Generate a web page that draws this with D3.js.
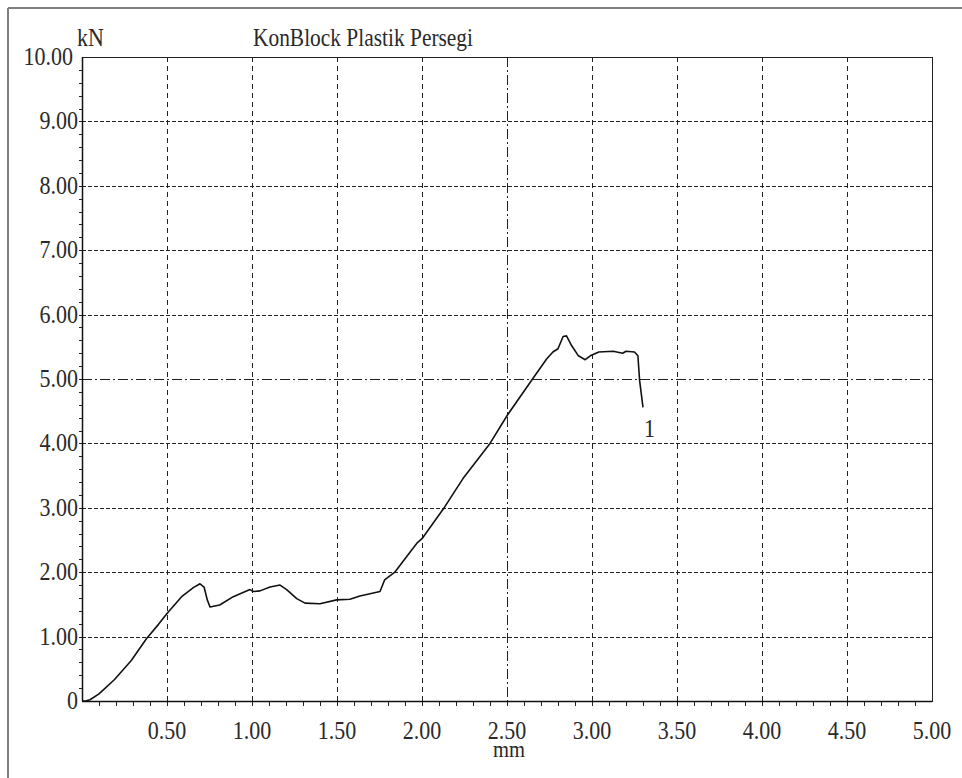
<!DOCTYPE html>
<html><head><meta charset="utf-8">
<script src="https://cdn.jsdelivr.net/npm/d3@7"></script>
<style>
body{margin:0;background:#fff}
svg{display:block}
text{font-family:"Liberation Serif","Times New Roman",serif;fill:#2a2a2a}
</style>
</head><body><svg width="962" height="778"></svg>
<script>
const chartTitle = "KonBlock Plastik Persegi";
const yUnit = "kN";
const xUnit = "mm";
const curveLabel = "1";
const xTicks = [0.5, 1, 1.5, 2, 2.5, 3, 3.5, 4, 4.5, 5];
const xTickLabels = ["0.50", "1.00", "1.50", "2.00", "2.50", "3.00", "3.50", "4.00", "4.50", "5.00"];
const yTicks = [0, 1, 2, 3, 4, 5, 6, 7, 8, 9, 10];
const yTickLabels = ["0", "1.00", "2.00", "3.00", "4.00", "5.00", "6.00", "7.00", "8.00", "9.00", "10.00"];
const dispMm = [0, 0.02, 0.047, 0.10, 0.19, 0.29, 0.38, 0.45, 0.50, 0.586, 0.655, 0.694, 0.718, 0.737, 0.753, 0.81, 0.89, 0.988, 1.008, 1.047, 1.106, 1.165, 1.204, 1.263, 1.312, 1.40, 1.498, 1.576, 1.635, 1.753, 1.78, 1.84, 1.90, 1.97, 2.00, 2.125, 2.24, 2.40, 2.50, 2.645, 2.733, 2.77, 2.80, 2.83, 2.85, 2.88, 2.92, 2.96, 2.99, 3.04, 3.125, 3.18, 3.20, 3.25, 3.27, 3.28, 3.30];
const forceKN = [0, 0, 0.02, 0.11, 0.33, 0.63, 0.97, 1.19, 1.36, 1.62, 1.76, 1.82, 1.77, 1.57, 1.46, 1.49, 1.62, 1.73, 1.70, 1.71, 1.77, 1.80, 1.73, 1.59, 1.52, 1.51, 1.57, 1.58, 1.63, 1.70, 1.88, 2.00, 2.21, 2.45, 2.52, 2.98, 3.45, 4.00, 4.43, 4.98, 5.31, 5.42, 5.47, 5.66, 5.67, 5.52, 5.36, 5.30, 5.36, 5.42, 5.43, 5.40, 5.43, 5.42, 5.36, 4.98, 4.56];

const svg = d3.select("svg");
const L = 82, R = 932, T = 57, B = 701;
const x = d3.scaleLinear().domain([0, 5]).range([L, R]);
const y = d3.scaleLinear().domain([0, 10]).range([B, T]);

// outer frame
svg.append("line").attr("x1", 8).attr("x2", 962).attr("y1", 8).attr("y2", 8).attr("stroke", "#808080").attr("stroke-width", 2);
svg.append("line").attr("x1", 8).attr("x2", 8).attr("y1", 8).attr("y2", 778).attr("stroke", "#808080").attr("stroke-width", 2);

// grid
const grid = svg.append("g").attr("stroke", "#222").attr("stroke-width", 1).attr("shape-rendering", "crispEdges");
grid.selectAll(".gx").data(xTicks.filter(d => d < 5)).join("line")
  .attr("x1", d => Math.round(x(d)) + 0.5).attr("x2", d => Math.round(x(d)) + 0.5)
  .attr("y1", T).attr("y2", B)
  .attr("stroke-dasharray", d => d === 2.5 ? "10,3,2,3" : "5,4");
grid.selectAll(".gy").data(yTicks.filter(d => d > 0 && d < 10)).join("line")
  .attr("x1", L).attr("x2", R)
  .attr("y1", d => Math.round(y(d)) + 0.5).attr("y2", d => Math.round(y(d)) + 0.5)
  .attr("stroke-dasharray", d => d === 5 ? "10,3,2,3" : "4,2");

// minor ticks
const minorX = d3.range(1, 50).map(i => i / 10);
svg.append("g").attr("stroke", "#222").attr("shape-rendering", "crispEdges")
  .selectAll("line").data(minorX).join("line")
  .attr("x1", d => Math.round(x(d)) + 0.5).attr("x2", d => Math.round(x(d)) + 0.5)
  .attr("y1", B).attr("y2", B + 5);
const minorY = d3.range(1, 50).map(i => i / 5);
svg.append("g").attr("stroke", "#222").attr("shape-rendering", "crispEdges")
  .selectAll("line").data(minorY).join("line")
  .attr("x1", L - 3).attr("x2", L)
  .attr("y1", d => Math.round(y(d)) + 0.5).attr("y2", d => Math.round(y(d)) + 0.5);

// plot box
svg.append("rect").attr("x", L + 0.5).attr("y", T + 0.5).attr("width", R - L).attr("height", B - T)
  .attr("fill", "none").attr("stroke", "#222").attr("stroke-width", 1).attr("shape-rendering", "crispEdges");
svg.append("line").attr("x1", L + 0.5).attr("x2", L + 0.5).attr("y1", T).attr("y2", B).attr("stroke", "#111").attr("stroke-width", 1.5);
svg.append("line").attr("x1", L).attr("x2", R).attr("y1", B + 0.5).attr("y2", B + 0.5).attr("stroke", "#111").attr("stroke-width", 1.5);

// tick labels (narrow, tall serif like the original)
svg.append("g").selectAll("text").data(xTicks).join("text")
  .attr("transform", d => `translate(${x(d)},739) scale(0.88,1)`).attr("text-anchor", "middle")
  .attr("font-size", 25).text((d, i) => xTickLabels[i]);
svg.append("g").selectAll("text").data(yTicks).join("text")
  .attr("transform", d => `translate(${d === 10 ? 73 : 78},${y(d) + 8}) scale(0.88,1)`).attr("text-anchor", "end")
  .attr("font-size", 25).text((d, i) => yTickLabels[i]);

// titles
svg.append("text").attr("transform", "translate(77,46) scale(0.88,1)").attr("font-size", 25).text(yUnit);
svg.append("text").attr("x", 253).attr("y", 46).attr("font-size", 26)
  .attr("textLength", 220).attr("lengthAdjust", "spacingAndGlyphs").text(chartTitle);
svg.append("text").attr("x", 509).attr("y", 757).attr("text-anchor", "middle").attr("font-size", 23)
  .attr("textLength", 32).attr("lengthAdjust", "spacingAndGlyphs").text(xUnit);

// curve
const pts = dispMm.map((d, i) => [d, forceKN[i]]);
svg.append("path").datum(pts)
  .attr("fill", "none").attr("stroke", "#111").attr("stroke-width", 1.6).attr("stroke-linejoin", "round")
  .attr("d", d3.line().x(d => x(d[0])).y(d => y(d[1])));
const last = pts[pts.length - 1];
svg.append("text").attr("transform", `translate(${x(last[0]) + 1},${y(last[1]) + 30}) scale(0.88,1)`).attr("font-size", 25).text(curveLabel);
</script>
</body></html>
